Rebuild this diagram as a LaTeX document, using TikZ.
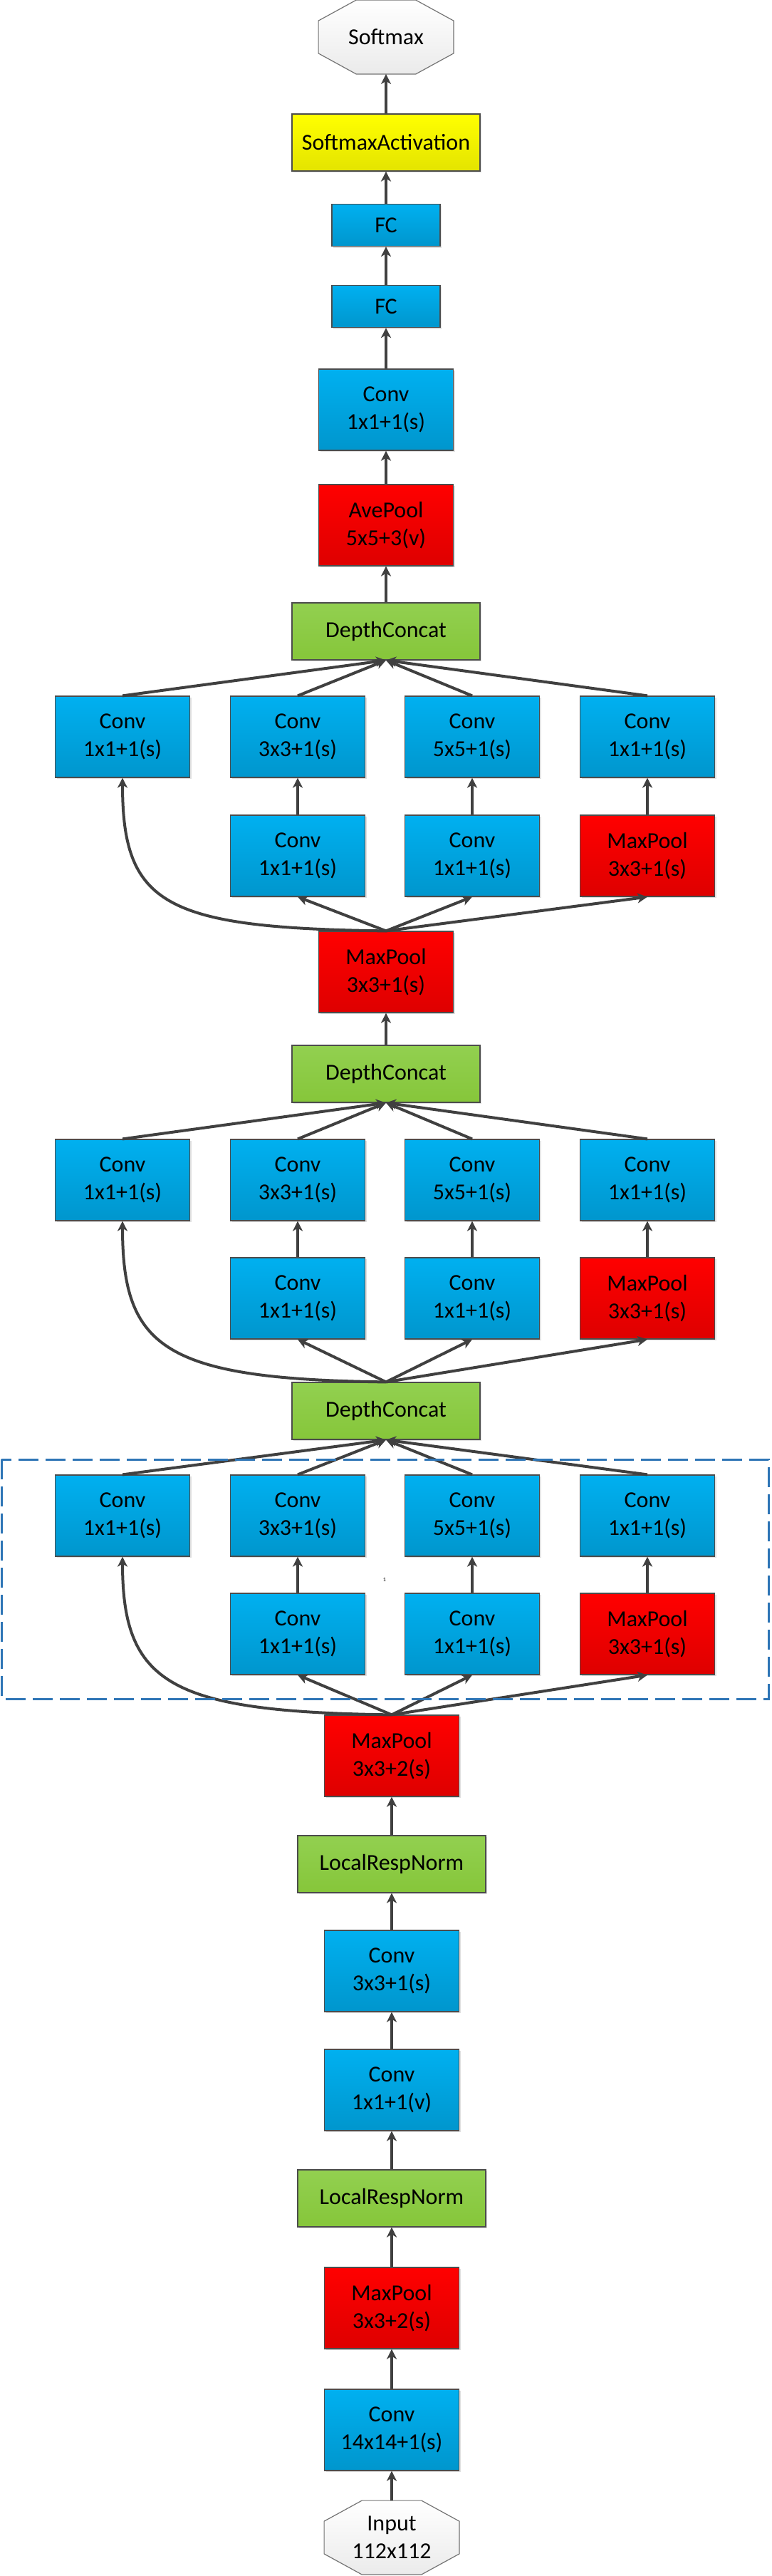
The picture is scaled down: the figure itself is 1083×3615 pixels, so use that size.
\documentclass[tikz,border=0pt]{standalone}
\usepackage{fontspec}
\setmainfont{Carlito}
\usetikzlibrary{arrows.meta,shadows,backgrounds}

\definecolor{convtop}{RGB}{0,176,240}
\definecolor{convbot}{RGB}{0,150,205}
\definecolor{pooltop}{RGB}{255,0,0}
\definecolor{poolbot}{RGB}{222,0,0}
\definecolor{normtop}{RGB}{146,208,80}
\definecolor{normbot}{RGB}{134,198,58}
\definecolor{acttop}{RGB}{255,255,0}
\definecolor{actbot}{RGB}{228,228,0}
\definecolor{arrgray}{RGB}{64,64,64}
\definecolor{dashblue}{RGB}{46,117,182}

\tikzstyle{layer}=[rectangle,draw=black!70,line width=0.6pt,align=center,inner sep=2pt,
  minimum width=94.5pt,minimum height=57pt,font=\fontsize{16pt}{19.5pt}\selectfont,
  general shadow={fill=black!12,shadow xshift=1pt,shadow yshift=-1pt}]
\tikzstyle{conv}=[layer,top color=convtop,bottom color=convbot]
\tikzstyle{pool}=[layer,top color=pooltop,bottom color=poolbot]
\tikzstyle{norm}=[layer,top color=normtop,bottom color=normbot,minimum width=132pt,minimum height=40pt]
\tikzstyle{act}=[layer,top color=acttop,bottom color=actbot,minimum width=132pt,minimum height=40pt]
\tikzstyle{fc}=[conv,minimum width=76pt,minimum height=29.5pt]
\tikzstyle{term}=[rectangle,align=center,inner sep=0pt,minimum width=94.5pt,minimum height=51.5pt,
  font=\fontsize{16pt}{19.5pt}\selectfont]
\tikzstyle{arr}=[draw,arrgray,line width=1.6pt,-{Stealth[length=7pt,width=7pt,inset=2pt]}]
\tikzstyle{branch}=[arr,line width=2pt]
\tikzstyle{dashbox}=[draw,dashblue,line width=1.5pt,dash pattern=on 14pt off 5pt]

% octagon behind a terminal node
\newcommand{\octa}[1]{%
  \begin{pgfonlayer}{background}
  \path[draw=black!55,line width=0.6pt,top color=white,bottom color=black!8]
    ([xshift=26.5pt]#1.north west) -- ([xshift=-26.5pt]#1.north east)
    -- ([yshift=-14.5pt]#1.north east) -- ([yshift=14.5pt]#1.south east)
    -- ([xshift=-26.5pt]#1.south east) -- ([xshift=26.5pt]#1.south west)
    -- ([yshift=14.5pt]#1.south west) -- ([yshift=-14.5pt]#1.north west) -- cycle;
  \end{pgfonlayer}}

\begin{document}
\begin{tikzpicture}[x=0.5pt,y=-0.5pt]
    \useasboundingbox (0,0) rectangle (1083,3615);
    % First the stem, from the input up
    \node[term] (inp) at (550,3561) {Input\\112x112};
    \octa{inp}
    \node[conv] (c14) at (550,3410) {Conv\\14x14+1(s)};
    \node[pool] (mp0) at (550,3239) {MaxPool\\3x3+2(s)};
    \node[norm] (lrn1) at (550,3085) {LocalRespNorm};
    \node[conv] (c1v) at (550,2933) {Conv\\1x1+1(v)};
    \node[conv] (c3) at (550,2766) {Conv\\3x3+1(s)};
    \node[norm] (lrn2) at (550,2616) {LocalRespNorm};
    \node[pool] (mp1) at (550,2464) {MaxPool\\3x3+2(s)};
    % concat layers and the head
    \node[norm] (dc1) at (542,1980) {DepthConcat};
    \node[norm] (dc2) at (542,1507) {DepthConcat};
    \node[pool] (mp2) at (542,1364) {MaxPool\\3x3+1(s)};
    \node[norm] (dc3) at (542,886) {DepthConcat};
    \node[pool] (avp) at (542,737) {AvePool\\5x5+3(v)};
    \node[conv] (convt) at (542,575) {Conv\\1x1+1(s)};
    \node[fc] (fc1) at (542,430) {FC};
    \node[fc] (fc2) at (542,316) {FC};
    \node[act] (sma) at (542,200) {SoftmaxActivation};
    \node[term] (sm) at (542,52) {Softmax};
    \octa{sm}
    \foreach \a/\b in {inp/c14,c14/mp0,mp0/lrn1,lrn1/c1v,c1v/c3,c3/lrn2,lrn2/mp1,
        dc2/mp2,dc3/avp,avp/convt,convt/fc1,fc1/fc2,fc2/sma,sma/sm}
        \path[arr] (\a.north) -- (\b.south);
    % Then the three inception modules
    \foreach \m/\yt/\yb/\src/\dst in {a/2127/2293/mp1/dc1,b/1656/1822/dc1/dc2,c/1034/1201/mp2/dc3} {
        \node[conv] (\m c1) at (172,\yt) {Conv\\1x1+1(s)};
        \node[conv] (\m c2) at (418,\yt) {Conv\\3x3+1(s)};
        \node[conv] (\m c3) at (663,\yt) {Conv\\5x5+1(s)};
        \node[conv] (\m c4) at (909,\yt) {Conv\\1x1+1(s)};
        \node[conv] (\m r2) at (418,\yb) {Conv\\1x1+1(s)};
        \node[conv] (\m r3) at (663,\yb) {Conv\\1x1+1(s)};
        \node[pool] (\m r4) at (909,\yb) {MaxPool\\3x3+1(s)};
        \foreach \i in {2,3,4} {
            \path[branch] (\src.north) -- (\m r\i.south);
            \path[arr] (\m r\i.north) -- (\m c\i.south);
        }
        \path[branch] (\src.north) .. controls +(-312,-4) and +(0,178) .. (\m c1.south);
        \foreach \i in {1,...,4}
            \path[branch] (\m c\i.north) -- (\dst.south);
    }
    \node[font=\fontsize{4pt}{5pt}\selectfont,inner sep=0pt] (mark) at (540,2217) {1};
    \draw[dashbox] (2,2048) rectangle (1079,2384);
\end{tikzpicture}
\end{document}
